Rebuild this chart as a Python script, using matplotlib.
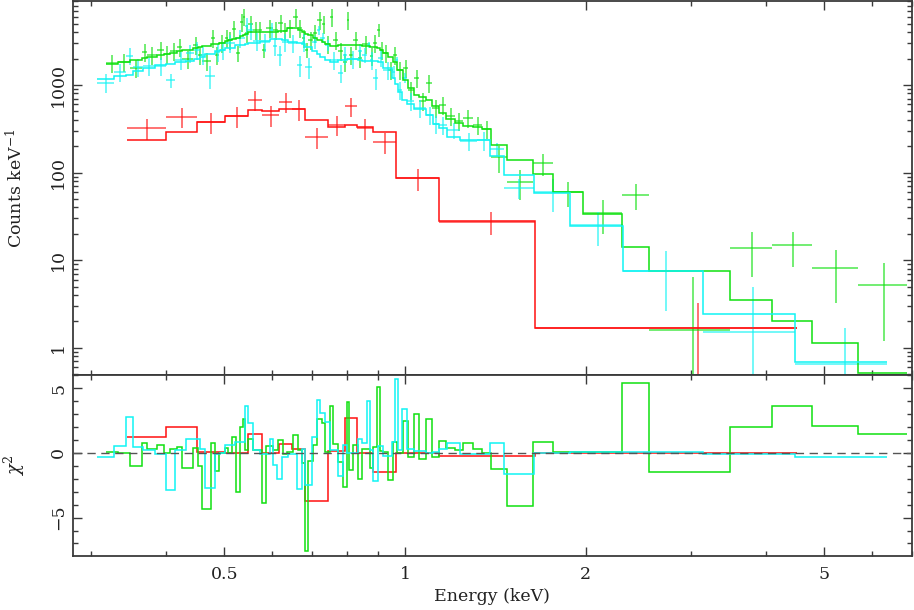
import numpy as np
import matplotlib
matplotlib.use('Agg')
import matplotlib.pyplot as plt
from matplotlib.ticker import FixedLocator, FixedFormatter, NullFormatter, MultipleLocator

plt.rcParams['font.family'] = ['DejaVu Serif']
plt.rcParams['mathtext.fontset'] = 'dejavuserif'

# ---------------- data (energies in keV) ----------------
red_edges = [0.344, 0.400, 0.450, 0.501, 0.547, 0.578, 0.617, 0.648, 0.681, 0.744,
             0.794, 0.832, 0.885, 0.966, 1.139, 1.647, 4.502]
red_data = [323, 431, 378, 442, 674, 454, 640, 532, 255, 349, 575, 323, 223, 86, 27.2, 1.67]
red_err = [90, 110, 100, 115, 170, 120, 160, 140, 70, 90, 140, 85, 60, 25, 8, 1.55]
red_model = [235, 290, 378, 442, 518, 505, 532, 532, 398, 331, 349, 331, 290, 86, 27.9, 1.67]
red_resid = [1.21, 2.04, 0.1, 0.0, 1.47, 0.0, 0.67, 0.28, -3.71, 0.18, 2.73, 0.0, -1.5, 0.0, -0.23, 0.0]

green_edges = [0.3175, 0.3323, 0.3480, 0.3645, 0.3715, 0.3861, 0.3966, 0.4058, 0.4169, 0.4249,
               0.4432, 0.4519, 0.4589, 0.4750, 0.4824, 0.4898, 0.5012, 0.5070, 0.5148, 0.5228,
               0.5309, 0.5370, 0.5412, 0.5474, 0.5580, 0.5689, 0.5777, 0.5866, 0.6026, 0.6142,
               0.6261, 0.6358, 0.6506, 0.6632, 0.6735, 0.6813, 0.6892, 0.7026, 0.7135, 0.7273,
               0.7357, 0.7499, 0.7586, 0.7733, 0.7882, 0.8004, 0.8066, 0.8190, 0.8349, 0.8479,
               0.8744, 0.8845, 0.8982, 0.9086, 0.9190, 0.9368, 0.9550, 0.9698, 0.9924, 1.0116,
               1.0351, 1.0552, 1.0839, 1.1092, 1.1394, 1.1704, 1.2115, 1.2493, 1.2982, 1.3438,
               1.3911, 1.4791, 1.6343, 1.7650, 1.9803, 2.2993, 2.5508, 3.4813, 4.0907, 4.7672,
               5.6885, 6.8662]
green_data = [1783, 1832, 1563, 2381, 2203, 2510, 2260, 2449, 2718, 2000,
              2865, 2203, 1900, 3443, 2203, 3020, 3443, 3270, 4365, 2300,
              5248, 5985, 3930, 4977, 4250, 4250, 2500, 4477, 4250, 5117,
              4140, 4477, 5985, 4477, 3443, 2500, 3270, 3930, 5530, 4977,
              2941, 5985, 3270, 2449, 1832, 5530, 2203, 3270, 2036, 2941,
              2143, 3020, 4250, 2510, 2323, 1480, 2203, 1480, 1563, 877,
              1202, 656, 1054, 546, 590, 442, 388, 420, 349, 314,
              150, 78, 128, 59.8, 34.5, 55.3, 1.58, 13.7, 14.8, 8.1, 5.2]
green_err = [410, 420, 360, 550, 500, 580, 520, 560, 620, 460,
             660, 500, 440, 790, 500, 700, 790, 750, 1000, 480,
             1200, 1300, 900, 1100, 980, 980, 460, 1030, 980, 1180,
             950, 1030, 1380, 1030, 790, 480, 750, 900, 1270, 1150,
             680, 1380, 750, 560, 420, 1270, 500, 750, 470, 680,
             490, 700, 700, 580, 530, 340, 500, 340, 360, 200,
             280, 150, 240, 125, 135, 100, 90, 95, 80, 72,
             52, 29, 36, 19, 14.5, 18, 4.8, 7.2, 6.4, 4.9, 4.0]
green_model = [1738, 1832, 1930, 2036, 2089, 2203, 2260, 2323, 2449, 2510,
               2648, 2718, 2792, 2941, 2941, 3020, 3184, 3270, 3357, 3443,
               3631, 3726, 3828, 4036, 4036, 4036, 4036, 4036, 4036, 4140,
               4140, 4477, 4477, 4250, 4036, 3828, 3726, 3443, 3270, 3097,
               2941, 2792, 2792, 2865, 2865, 2865, 2865, 2865, 2865, 2792,
               2718, 2718, 2648, 2510, 2323, 2089, 1832, 1480, 1140, 924,
               769, 730, 674, 575, 479, 409, 368, 340, 331, 314,
               206, 139, 96, 59.8, 33.6, 14.1, 7.5, 3.5, 2.01, 1.12, 0.51]
green_resid = [0.1, 0.0, -0.98, 0.75, 0.3, 0.65, 0.0, 0.3, 0.45, -1.2,
               0.4, -1.0, -4.3, 0.75, -1.4, 0.0, 0.4, 0.0, 1.2, -3.0,
               2.0, 2.6, 0.2, 1.05, 0.2, 0.2, -3.9, 0.55, 0.2, 1.0,
               -0.1, 0.1, 1.4, 0.2, -0.8, -7.6, -0.6, 0.6, 2.6, 2.3,
               0.1, 3.6, 0.7, -0.7, -2.6, 3.95, -1.3, 0.6, -2.0, 0.3,
               -1.2, 0.45, 5.1, 0.15, 0.1, -2.1, 0.85, 0.0, 2.5, -0.3,
               3.0, -0.5, 2.6, -0.3, 0.9, 0.4, 0.2, 0.8, 0.3, 0.0,
               -1.24, -4.1, 0.83, 0.05, 0.1, 5.4, -1.5, 2.0, 3.6, 2.1, 1.44]

cyan_edges = [0.3066, 0.3273, 0.3428, 0.3521, 0.3659, 0.3831, 0.3999, 0.4136, 0.4315, 0.4449,
              0.4552, 0.4642, 0.4824, 0.4917, 0.5012, 0.5208, 0.5412, 0.5474, 0.5580, 0.5733,
              0.5957, 0.6026, 0.6119, 0.6237, 0.6383, 0.6607, 0.6735, 0.6813, 0.6998, 0.7135,
              0.7217, 0.7357, 0.7499, 0.7733, 0.7882, 0.8004, 0.8349, 0.8479, 0.8642, 0.8744,
              0.8845, 0.9016, 0.9190, 0.9513, 0.9623, 0.9735, 0.9886, 1.0077, 1.0351, 1.0839,
              1.1135, 1.1394, 1.1749, 1.2351, 1.3183, 1.3856, 1.4622, 1.6406, 1.8836, 2.3081,
              3.1386, 4.4668, 6.3606]
cyan_data = [1060, 1408, 2150, 1607, 1648, 1648, 1140, 1930, 2323, 2510,
             2203, 1267, 2381, 2510, 3020, 3443, 4700, 4200, 3184, 3097,
             4250, 2792, 2203, 3097, 3020, 1690, 3097, 1607, 3097, 4250,
             3443, 2865, 1930, 1371, 2203, 1982, 2449, 2203, 2865, 1930,
             1202, 2036, 1480, 1408, 1930, 877, 1202, 656, 546, 454,
             360, 349, 306, 230, 233, 186, 66.5, 59.8, 25, 7.6, 1.5, 0.66]
cyan_err = [260, 320, 480, 370, 380, 380, 210, 440, 530, 580,
            500, 370, 550, 580, 700, 790, 1050, 900, 730, 710,
            800, 640, 560, 710, 700, 470, 710, 440, 540, 490,
            440, 390, 440, 310, 500, 450, 480, 420, 250, 440,
            320, 420, 340, 240, 160, 200, 155, 150, 125, 105,
            85, 80, 65, 55, 55, 30, 17, 24, 10.5, 5, 3.4, 1.0]
cyan_model = [1171, 1267, 1300, 1445, 1563, 1690, 1738, 1832, 1880, 1982,
              2089, 2260, 2449, 2510, 2648, 2865, 2941, 3020, 3020, 3184,
              3357, 3357, 3357, 3270, 3097, 3020, 2941, 2718, 2449, 2260,
              2089, 1930, 1832, 1930, 1930, 1982, 1930, 1880, 1880, 1880,
              1880, 1832, 1563, 1202, 1027, 832, 674, 607, 532, 454,
              358, 323, 255, 235, 235, 155, 94, 58.3, 24.5, 7.5, 2.4, 0.68]
cyan_resid = [-0.3, 0.5, 2.8, 0.45, 0.25, -0.1, -2.85, 0.2, 1.06, 1.1,
              0.3, -2.7, -0.1, 0.0, 0.6, 0.85, 3.6, 2.3, 0.2, -0.1,
              1.1, -0.9, -2.0, -0.3, -0.1, -2.8, 0.3, -2.5, 1.2, 4.1,
              3.1, 2.4, 0.2, -1.8, 0.6, 0.0, 1.1, 0.8, 4.0, 0.2,
              -2.15, 0.5, -0.2, 0.85, 5.7, 0.2, 3.4, 0.3, 0.15, 0.0,
              0.05, 0.3, 0.8, -0.1, -0.05, 0.8, -1.65, 0.0, 0.05, 0.05, -0.1, -0.34]

x_ticks = [0.5, 1, 2, 5]
x_ticklabels = ['0.5', '1', '2', '5']
x_minor = [0.3, 0.4, 0.6, 0.7, 0.8, 0.9, 3, 4, 6, 7]
y_ticks = [1, 10, 100, 1000]
y_ticklabels = ['1', '10', '100', '1000']

RED = '#ff1010'
GREEN = '#10e010'
CYAN = '#10f4f4'
AXC = '#3a3a3a'

datasets = [
    (red_edges, red_data, red_err, red_model, red_resid, RED),
    (green_edges, green_data, green_err, green_model, green_resid, GREEN),
    (cyan_edges, cyan_data, cyan_err, cyan_model, cyan_resid, CYAN),
]

fig = plt.figure(figsize=(9.14, 6.10), dpi=100)
L = 72.7 / 914
W = (912 - 72.7) / 914
ax1 = fig.add_axes([L, 1 - 375 / 610, W, 374 / 610])
ax2 = fig.add_axes([L, 1 - 556 / 610, W, 181 / 610], sharex=ax1)

for edges, data, err, model, resid, c in datasets:
    e = np.asarray(edges)
    lo, hi = e[:-1], e[1:]
    xc = 0.5 * (lo + hi)
    ax1.errorbar(xc, data, xerr=[xc - lo, hi - xc], yerr=err, fmt='none',
                 ecolor=c, elinewidth=1.1, alpha=0.75, capsize=0, zorder=2)
    ax1.stairs(model, e, baseline=None, color=c, lw=1.1, zorder=3)
    ax2.stairs(resid, e, baseline=None, color=c, lw=1.1, zorder=3)

ax2.axhline(0, color='#555555', lw=1.0, dashes=(6, 4), zorder=4)

ax1.set_xscale('log')
ax1.set_yscale('log')
ax1.set_xlim(0.2793, 7.0)
ax1.set_ylim(0.488, 9100)
ax2.set_ylim(-7.97, 6.03)

for ax in (ax1, ax2):
    ax.xaxis.set_major_locator(FixedLocator(x_ticks))
    ax.xaxis.set_minor_locator(FixedLocator(x_minor))
    ax.xaxis.set_minor_formatter(NullFormatter())
    ax.tick_params(which='both', direction='in', top=True, right=True,
                   color=AXC, width=1.0, labelsize=12.5, labelcolor='#222222')
    ax.tick_params(which='major', length=6.5)
    ax.tick_params(which='minor', length=3.6)
    for s in ax.spines.values():
        s.set_color(AXC)
        s.set_linewidth(1.3)

ax1.tick_params(axis='x', labelbottom=False)
ax2.xaxis.set_major_formatter(FixedFormatter(x_ticklabels))
ax2.tick_params(axis='x', pad=7)

ax1.yaxis.set_major_locator(FixedLocator(y_ticks))
ax1.yaxis.set_major_formatter(FixedFormatter(y_ticklabels))
ax1.yaxis.set_minor_locator(matplotlib.ticker.LogLocator(base=10, subs=np.arange(2, 10)))
ax1.yaxis.set_minor_formatter(NullFormatter())
ax2.yaxis.set_major_locator(MultipleLocator(5))
ax2.yaxis.set_minor_locator(MultipleLocator(1))

for ax in (ax1, ax2):
    for lab in ax.get_yticklabels():
        lab.set_rotation(90)
        lab.set_va('center')
    ax.tick_params(axis='y', pad=4)

ax1.set_ylabel('Counts keV$^{-1}$', fontsize=12.5, color='#222222', labelpad=17)
ax2.set_ylabel(r'$\chi^2$', fontsize=13, color='#222222', labelpad=17)
ax2.set_xlabel('Energy (keV)', fontsize=12.5, color='#222222', labelpad=4)
fig.align_ylabels([ax1, ax2])

fig.savefig('out.png', dpi=100)
